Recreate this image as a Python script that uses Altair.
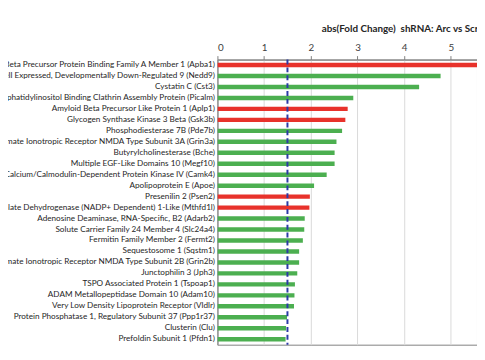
import altair as alt
import pandas as pd

names = [
    "Amyloid Beta Precursor Protein Binding Family A Member 1",
    "Neural Precursor Cell Expressed, Developmentally Down-Regulated 9",
    "Cystatin C",
    "Phosphatidylinositol Binding Clathrin Assembly Protein",
    "Amyloid Beta Precursor Like Protein 1",
    "Glycogen Synthase Kinase 3 Beta",
    "Phosphodiesterase 7B",
    "Glutamate Ionotropic Receptor NMDA Type Subunit 3A",
    "Butyrylcholinesterase",
    "Multiple EGF-Like Domains 10",
    "Calcium/Calmodulin-Dependent Protein Kinase IV",
    "Apolipoprotein E",
    "Presenilin 2",
    "Methylenetetrahydrofolate Dehydrogenase (NADP+ Dependent) 1-Like",
    "Adenosine Deaminase, RNA-Specific, B2",
    "Solute Carrier Family 24 Member 4",
    "Fermitin Family Member 2",
    "Sequestosome 1",
    "Glutamate Ionotropic Receptor NMDA Type Subunit 2B",
    "Junctophilin 3",
    "TSPO Associated Protein 1",
    "ADAM Metallopeptidase Domain 10",
    "Very Low Density Lipoprotein Receptor",
    "Protein Phosphatase 1, Regulatory Subunit 37",
    "Clusterin",
    "Prefoldin Subunit 1",
]
symbols = ["Apba1", "Nedd9", "Cst3", "Picalm", "Aplp1", "Gsk3b", "Pde7b", "Grin3a",
           "Bche", "Megf10", "Camk4", "Apoe", "Psen2", "Mthfd1l", "Adarb2", "Slc24a4",
           "Fermt2", "Sqstm1", "Grin2b", "Jph3", "Tspoap1", "Adam10", "Vldlr",
           "Ppp1r37", "Clu", "Pfdn1"]
fold_change = [6.2, 4.78, 4.32, 2.91, 2.79, 2.74, 2.67, 2.55, 2.51, 2.51, 2.34, 2.07,
               1.98, 1.97, 1.87, 1.86, 1.83, 1.75, 1.75, 1.71, 1.66, 1.65, 1.64,
               1.49, 1.47, 1.46]
direction = ["red", "green", "green", "green", "red", "red", "green", "green", "green",
             "green", "green", "green", "red", "red", "green", "green", "green", "green",
             "green", "green", "green", "green", "green", "green", "green", "green"]
threshold = [1.5]
x_ticks = [0, 1, 2, 3, 4, 5]

labels = [f"{n} ({s})" for n, s in zip(names, symbols)]
df = pd.DataFrame({"label": labels, "value": fold_change, "dir": direction})
thr = pd.DataFrame({"t": threshold})

xscale = alt.Scale(domain=[0, 5.56], nice=False, zero=True)

bars = alt.Chart(df).mark_bar(size=4.5, clip=True).encode(
    x=alt.X("value:Q", scale=xscale,
            axis=alt.Axis(orient="top", values=x_ticks, title=None, grid=True,
                          gridColor="#d9d9d9", domainColor="#7f7f7f", tickColor="#7f7f7f",
                          tickSize=4, labelFontSize=10, labelColor="#404040",
                          labelFont="Lato", labelPadding=3, format="d")),
    y=alt.Y("label:N", sort=labels,
            scale=alt.Scale(paddingInner=0, paddingOuter=0),
            axis=alt.Axis(title=None, ticks=False, domainColor="#7f7f7f",
                          labelFont="Lato", labelFontSize=8.3, labelColor="#262626",
                          labelPadding=3, labelLimit=0)),
    color=alt.Color("dir:N", scale=alt.Scale(domain=["red", "green"],
                                            range=["#e8322b", "#4caf50"]), legend=None),
)

rule = alt.Chart(thr).mark_rule(color="#2b3aa6", strokeWidth=2, strokeDash=[5, 3]).encode(
    x=alt.X("t:Q", scale=xscale)
)

chart = alt.layer(bars, rule).properties(
    width=264,
    height=290,
    autosize=alt.AutoSizeParams(type="none"),
    padding={"left": 213, "top": 49.5, "right": 0, "bottom": 5},
    title=alt.TitleParams("abs(Fold Change)\u00a0 shRNA: Arc vs Scrambled", anchor="start",
                          frame="group", dx=106, fontSize=10, font="Lato",
                          fontWeight="bold", color="#262626", offset=9),
).configure_view(stroke="#7f7f7f", strokeWidth=1)

chart.save("out.html", embed_options={"renderer": "svg", "actions": False})
